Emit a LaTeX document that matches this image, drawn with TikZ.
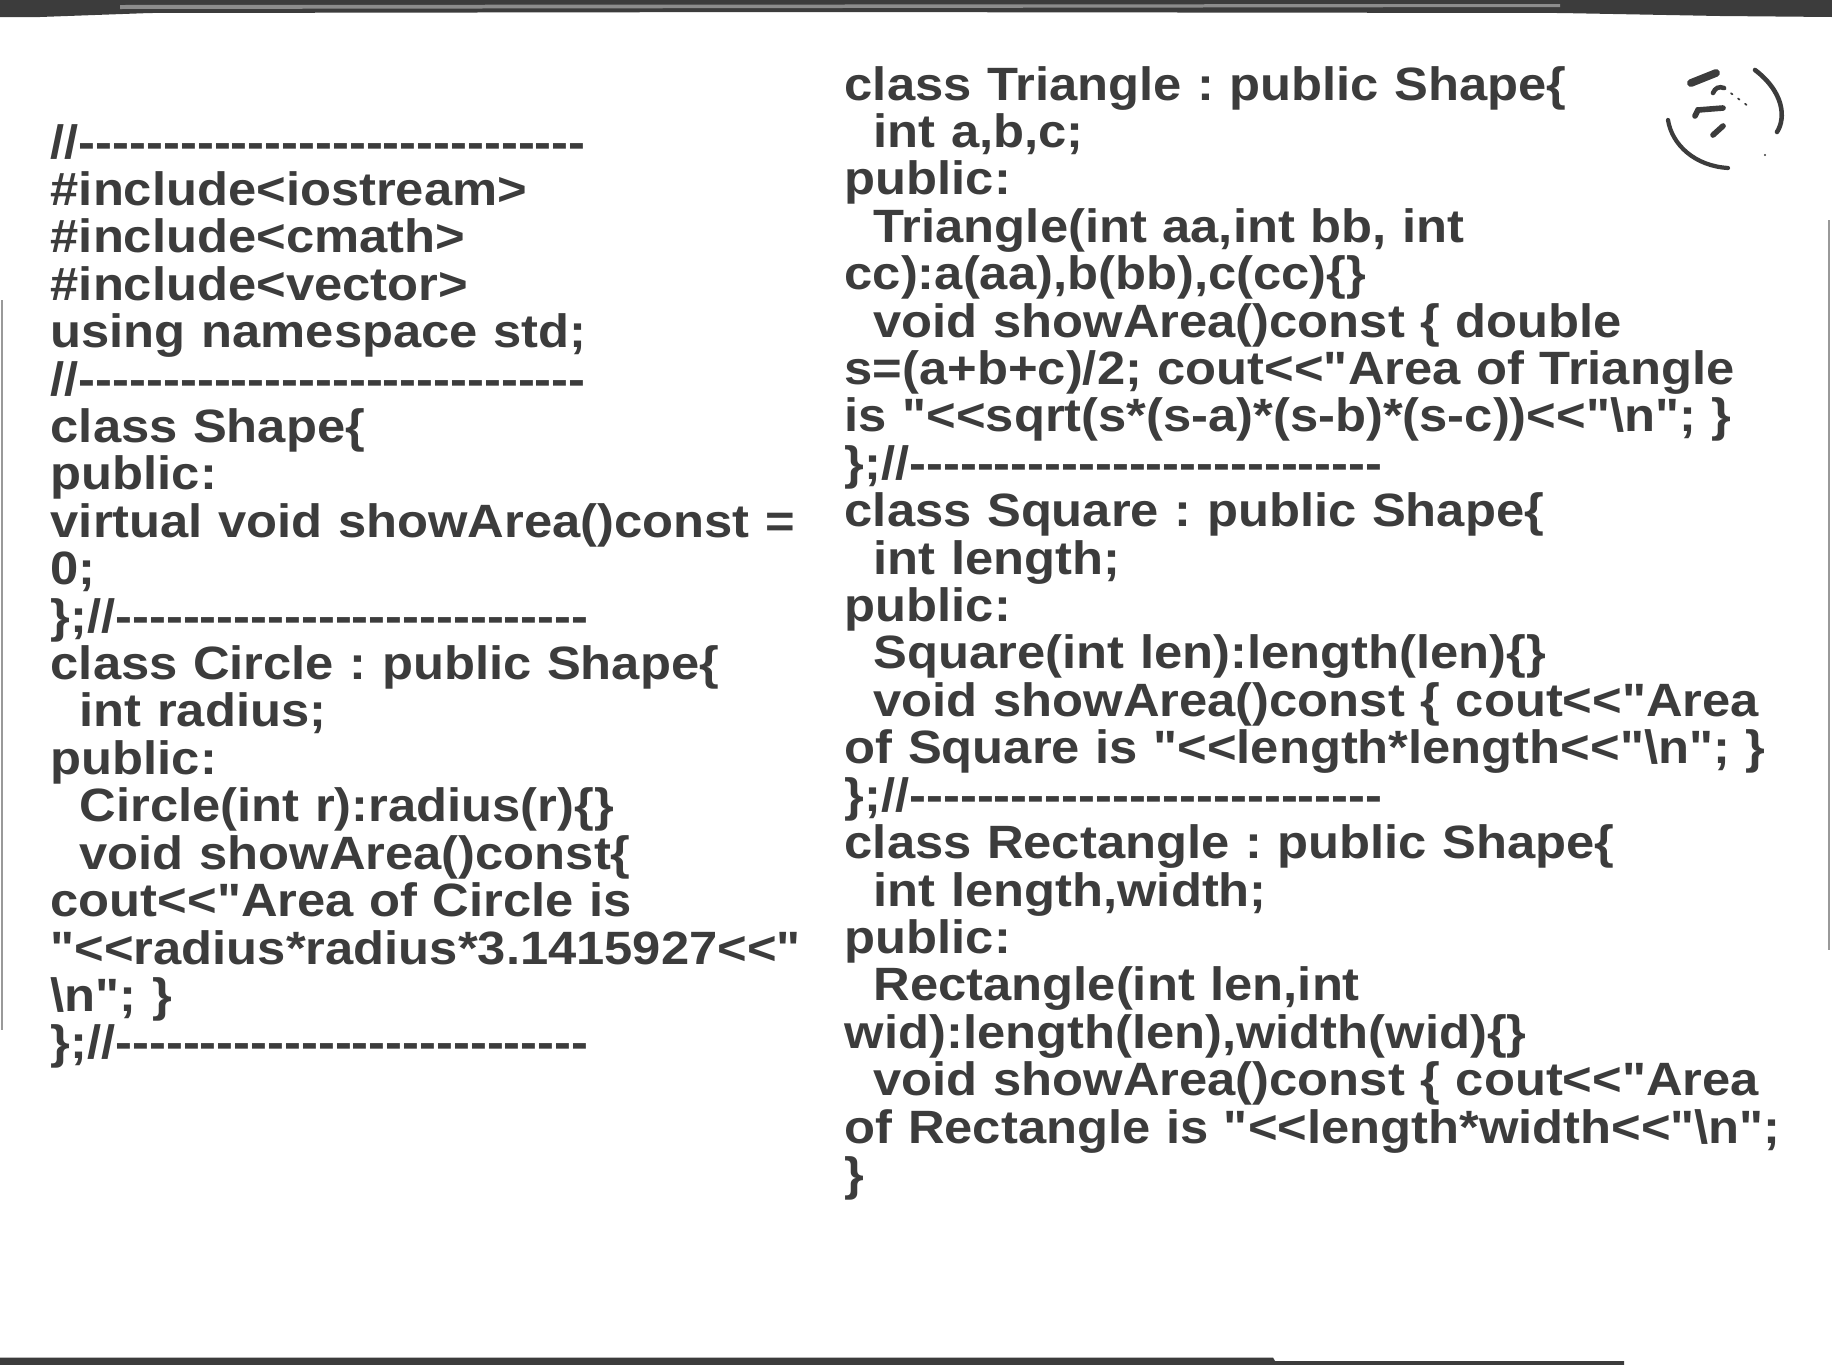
\documentclass[tikz,border=0pt]{standalone}
\usepackage{fontspec}
\newfontfamily\codefont{Liberation Sans}[FakeStretch=1.085,Ligatures=TeXOff]
\definecolor{ink}{HTML}{3C3C3C}
\newcommand\ind{\hspace*{0.29cm}}
\tikzset{
  codecol/.style={anchor=base west, inner sep=0pt, text width=#1, align=left, text=ink,
    font={\codefont\bfseries\fontsize{13.3}{13.49}\selectfont\frenchspacing\lineskiplimit=-50pt}},
  pen/.style={draw=ink, line cap=round, line width=#1}
}
\begin{document}
\begin{tikzpicture}
  \useasboundingbox (0,0) rectangle (18.32,-13.65);
  \fill[white] (0,0) rectangle (18.32,-13.65);
  % scanner edges
  \fill[ink] (0,0) -- (18.32,0) -- (18.32,-0.17) -- (17.2,-0.16) -- (15.6,-0.13)
             -- (8,-0.12) -- (1.5,-0.13) -- (0.4,-0.17) -- (0,-0.17) -- cycle;
  \fill[black!45] (1.2,-0.05) -- (15.6,-0.04) -- (15.6,-0.07) -- (1.2,-0.09) -- cycle;
  \fill[ink] (0,-13.575) -- (12.73,-13.575) -- (12.75,-13.61) -- (16.24,-13.61)
             -- (16.24,-13.65) -- (0,-13.65) -- cycle;
  \draw[black!40, line width=0.4pt] (0.02,-3.0) -- (0.02,-10.3);
  \draw[black!40, line width=0.4pt] (18.29,-2.2) -- (18.29,-9.5);
  % the two code columns
  \node (leftcode) [codecol=8cm] at (0.50,-1.58) {%
//------------------------------\\
\#include<iostream>\\
\#include<cmath>\\
\#include<vector>\\
using namespace std;\\
//------------------------------\\
class Shape\{\\
public:\\
virtual void showArea()const =\\
0;\\
\};//----------------------------\\
class Circle : public Shape\{\\
\ind int radius;\\
public:\\
\ind Circle(int r):radius(r)\{\}\\
\ind void showArea()const\{\\
cout<<"Area of Circle is\\
"<<radius*radius*3.1415927<<"\\
\textbackslash n"; \}\\
\};//----------------------------};
  \node (rightcode) [codecol=9.8cm] at (8.44,-1.00) {%
class Triangle : public Shape\{\\
\ind int a,b,c;\\
public:\\
\ind Triangle(int aa,int bb, int\\
cc):a(aa),b(bb),c(cc)\{\}\\
\ind void showArea()const \{ double\\
s=(a+b+c)/2; cout<<"Area of Triangle\\
is "<<sqrt(s*(s-a)*(s-b)*(s-c))<<"\textbackslash n"; \}\\
\};//----------------------------\\
class Square : public Shape\{\\
\ind int length;\\
public:\\
\ind Square(int len):length(len)\{\}\\
\ind void showArea()const \{ cout<<"Area\\
of Square is "<<length*length<<"\textbackslash n"; \}\\
\};//----------------------------\\
class Rectangle : public Shape\{\\
\ind int length,width;\\
public:\\
\ind Rectangle(int len,int\\
wid):length(len),width(wid)\{\}\\
\ind void showArea()const \{ cout<<"Area\\
of Rectangle is "<<length*width<<"\textbackslash n";\\
\}};
  % the circled mark, top right
  \draw[pen=1.3pt] (17.55,-0.70) .. controls (17.84,-0.92) and (17.86,-1.18) .. (17.77,-1.32);
  \draw[pen=1.2pt] (16.68,-1.20) .. controls (16.72,-1.45) and (16.95,-1.66) .. (17.28,-1.68);
  \draw[pen=2.2pt] (16.91,-0.83) -- (17.16,-0.73);
  \draw[pen=1.3pt] (17.13,-0.93) .. controls (17.15,-0.88) and (17.19,-0.86) .. (17.24,-0.88);
  \draw[pen=0.5pt, dotted] (17.24,-0.88) -- (17.52,-1.09);
  \draw[pen=1.6pt] (16.95,-1.16) -- (16.98,-1.10) -- (17.23,-1.08);
  \draw[pen=1.6pt] (17.13,-1.35) -- (17.23,-1.26);
  \fill[ink] (17.65,-1.55) circle (0.012);
\end{tikzpicture}
\end{document}
